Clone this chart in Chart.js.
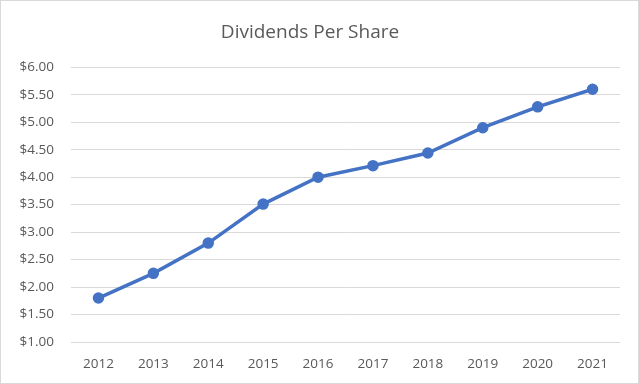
<!DOCTYPE html>
<html>
<head>
<meta charset="utf-8">
<script src="https://cdn.jsdelivr.net/npm/chart.js@4"></script>
<style>
  html, body { margin: 0; padding: 0; background: #fff; }
  #wrap { width: 639px; height: 384px; }
</style>
</head>
<body>
<div id="wrap"><canvas id="chart" width="639" height="384"></canvas></div>
<script>
const years = ['2012', '2013', '2014', '2015', '2016', '2017', '2018', '2019', '2020', '2021']
const dividends = [1.80, 2.25, 2.80, 3.51, 4.00, 4.21, 4.44, 4.90, 5.28, 5.60]

const frame = {
  id: 'frame',
  afterDraw(chart) {
    const ctx = chart.ctx
    ctx.save()
    ctx.strokeStyle = '#d9d9d9'
    ctx.lineWidth = 1
    ctx.strokeRect(0.5, 0.5, chart.width - 1, chart.height - 1)
    ctx.restore()
  }
}

const textColor = '#595959'

new Chart(document.getElementById('chart'), {
  type: 'line',
  data: {
    labels: years,
    datasets: [{
      label: 'Dividends Per Share',
      data: dividends,
      borderColor: '#4472c4',
      backgroundColor: '#4472c4',
      borderWidth: 3.5,
      pointRadius: 4,
      pointHoverRadius: 4,
      tension: 0,
      fill: false
    }]
  },
  options: {
    responsive: false,
    animation: false,
    layout: { padding: { top: 0, right: 19, bottom: 0, left: 0 } },
    plugins: {
      legend: { display: false },
      tooltip: { enabled: false },
      title: {
        display: true,
        text: 'Dividends Per Share',
        color: textColor,
        font: { family: 'Open Sans', size: 19, weight: 'normal' },
        padding: { top: 21, bottom: 23.5 }
      }
    },
    scales: {
      x: {
        offset: true,
        grid: { display: false, drawTicks: false },
        border: { display: false },
        ticks: { color: textColor, font: { family: 'Open Sans', size: 13.5 }, padding: 14, maxRotation: 0 },
        afterFit(scale) { scale.height = 42 }
      },
      y: {
        min: 1,
        max: 6,
        grid: { color: '#d9d9d9', lineWidth: 1, drawTicks: false },
        border: { display: false },
        ticks: {
          stepSize: 0.5,
          color: textColor,
          font: { family: 'Open Sans', size: 13.5 },
          padding: 17,
          callback: v => '$' + Number(v).toFixed(2)
        },
        afterFit(scale) { scale.width = 71 }
      }
    }
  },
  plugins: [frame]
})
</script>
</body>
</html>
